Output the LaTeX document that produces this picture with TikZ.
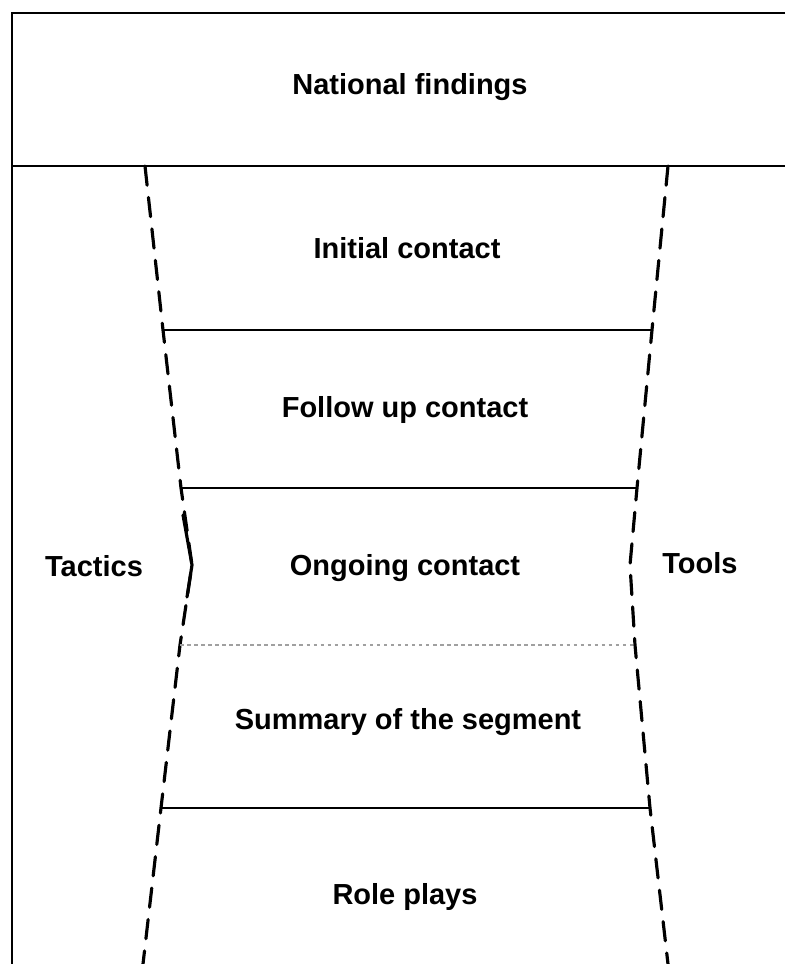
\documentclass[tikz,border=0pt]{standalone}
\usepackage{fontspec}
\setmainfont{Liberation Sans}
\usepackage{tikz}
\usepackage{xcolor}
\definecolor{InkCol}{RGB}{0,0,0}
\definecolor{FaintCol}{RGB}{160,160,160}
\tikzstyle{StageLabel}=[font=\fontsize{16.5}{20}\selectfont\bfseries,inner sep=0pt]
\tikzstyle{FrameLine}=[InkCol,line width=0.8pt]
\tikzstyle{StageLine}=[InkCol,line width=0.7pt]
\tikzstyle{FaintLine}=[FaintCol,line width=0.6pt,dash pattern=on 2pt off 2pt]
\tikzstyle{SideLine}=[InkCol,line width=1.8pt,dash pattern=on 11pt off 7pt,line cap=round]
\tikzstyle{KinkLine}=[InkCol,line width=1.8pt,line cap=round,line join=round]

\begin{document}
\begin{tikzpicture}[x=0.02cm,y=-0.02cm]
    \useasboundingbox (0,0) rectangle (785,964);
    % outer frame
    \coordinate (tl) at (12,13);
    \coordinate (tr) at (785,13);
    \coordinate (bl) at (12,964);
    \coordinate (ml) at (12,166);
    \coordinate (mr) at (785,166);
    \draw[FrameLine] (tr)--(tl)--(bl);
    \draw[FrameLine] (ml)--(mr);
    % left edge of the funnel
    \coordinate (l0) at (145,166);
    \coordinate (l1) at (163,330);
    \coordinate (l2) at (181,488);
    \coordinate (lk) at (192,565);
    \coordinate (l3) at (180,645);
    \coordinate (l4) at (161,808);
    \coordinate (l5) at (143,964);
    % right edge of the funnel
    \coordinate (r0) at (668,166);
    \coordinate (r1) at (652,330);
    \coordinate (r2) at (637,488);
    \coordinate (rk) at (630,565);
    \coordinate (r3) at (635,645);
    \coordinate (r4) at (650,808);
    \coordinate (r5) at (668,964);
    \draw[SideLine] (l0)--(l1)--(l2)--(lk)--(l3)--(l4)--(l5);
    \draw[SideLine] (r0)--(r1)--(r2)--(rk)--(r3)--(r4)--(r5);
    \coordinate (ka) at (183,515);
    \coordinate (kb) at (187,597);
    \draw[KinkLine] (ka)--(lk)--(kb);
    % stage dividers
    \draw[StageLine] (l1)--(r1);
    \draw[StageLine] (l2)--(r2);
    \draw[FaintLine] (l3)--(r3);
    \draw[StageLine] (l4)--(r4);
    % labels
    \node[StageLabel](national)at(410,87){National findings};
    \node[StageLabel](initial)at(407,248){Initial contact};
    \node[StageLabel](followup)at(405,410){Follow up contact};
    \node[StageLabel](ongoing)at(405,568){Ongoing contact};
    \node[StageLabel](summary)at(408,722){Summary of the segment};
    \node[StageLabel](roleplays)at(405,897){Role plays};
    \node[StageLabel](tactics)at(94,566){Tactics};
    \node[StageLabel](tools)at(700,563){Tools};
\end{tikzpicture}
\end{document}
